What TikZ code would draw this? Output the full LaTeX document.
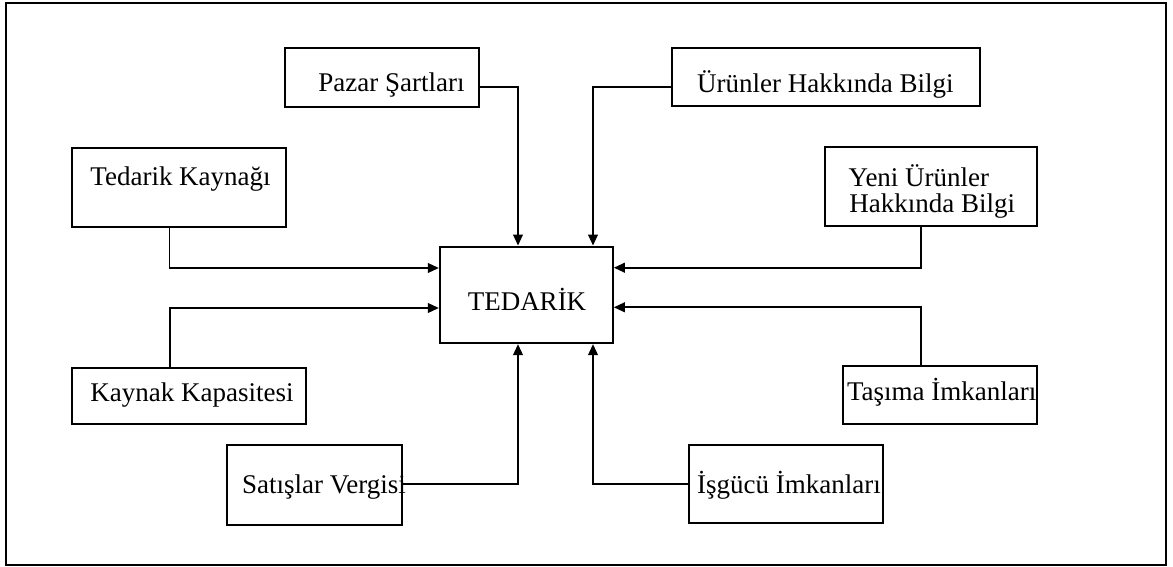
\documentclass[tikz,border=0pt]{standalone}
\usepackage{fontspec}
\setmainfont{Liberation Serif}
\usetikzlibrary{arrows.meta,fit}

\tikzset{
  box/.style={draw, line width=1.1pt, inner sep=0pt, rectangle},
  txt/.style={inner sep=0pt, anchor=base west, font=\fontsize{13.5}{16}\selectfont},
  arr/.style={draw, line width=0.95pt, -{Triangle[length=5.5pt,width=4.8pt]}},
  frame/.style={draw, line width=1.1pt}
}

\begin{document}
\begin{tikzpicture}[x=0.5pt,y=-0.5pt]
\useasboundingbox (0,0) rectangle (1173,567);
\draw[frame] (6,3) rectangle (1166,565);

% central box
\node[box, fit={(440,246.7) (612.7,343)}] (ted) {};
\node[txt, anchor=base] (ted-t) at (527,310) {TEDARİK};

% surrounding boxes
\node[box, fit={(285,47.7) (479,106.7)}] (pazar) {};
\node[txt] (pazar-t) at (318,91.7) {Pazar Şartları};

\node[box, fit={(671.7,48.3) (980,106)}] (urun) {};
\node[txt] (urun-t) at (696.7,93) {Ürünler Hakkında Bilgi};

\node[box, fit={(72,147.7) (286,227.3)}] (kaynak) {};
\node[txt] (kaynak-t) at (90,185) {Tedarik Kaynağı};

\node[box, fit={(825,146.7) (1036.7,225.7)}] (yeni) {};
\node[txt] (yeni-t1) at (848.3,186.7) {Yeni Ürünler};
\node[txt] (yeni-t2) at (849,213) {Hakkında Bilgi};

\node[box, fit={(72,367.7) (305.7,424.3)}] (kap) {};
\node[txt] (kap-t) at (90,401.7) {Kaynak Kapasitesi};

\node[box, fit={(843.3,366) (1037.3,424)}] (tasima) {};
\node[txt] (tasima-t) at (846.7,400) {Taşıma İmkanları};

\node[box, fit={(226.7,445) (401.7,525)}] (satis) {};
\node[txt] (satis-t) at (241.7,493.3) {Satışlar Vergisi};

\node[box, fit={(689.3,445) (882.7,522.7)}] (isgucu) {};
\node[txt] (isgucu-t) at (696.7,493.3) {İşgücü İmkanları};

% connectors into the central box
\draw[arr] (pazar.east |- 0,87.3) -| (518,0 |- ted.north);
\draw[arr] (urun.west |- 0,87.3) -| (593,0 |- ted.north);
\draw[arr] (169.5,0 |- kaynak.south) |- (ted.west |- 0,268);
\draw[arr] (920.7,0 |- yeni.south) |- (ted.east |- 0,267.7);
\draw[arr] (169.7,0 |- kap.north) |- (ted.west |- 0,308);
\draw[arr] (920.7,0 |- tasima.north) |- (ted.east |- 0,307.3);
\draw[arr] (satis.east |- 0,483.8) -| (518,0 |- ted.south);
\draw[arr] (isgucu.west |- 0,484.3) -| (593,0 |- ted.south);
\end{tikzpicture}
\end{document}
